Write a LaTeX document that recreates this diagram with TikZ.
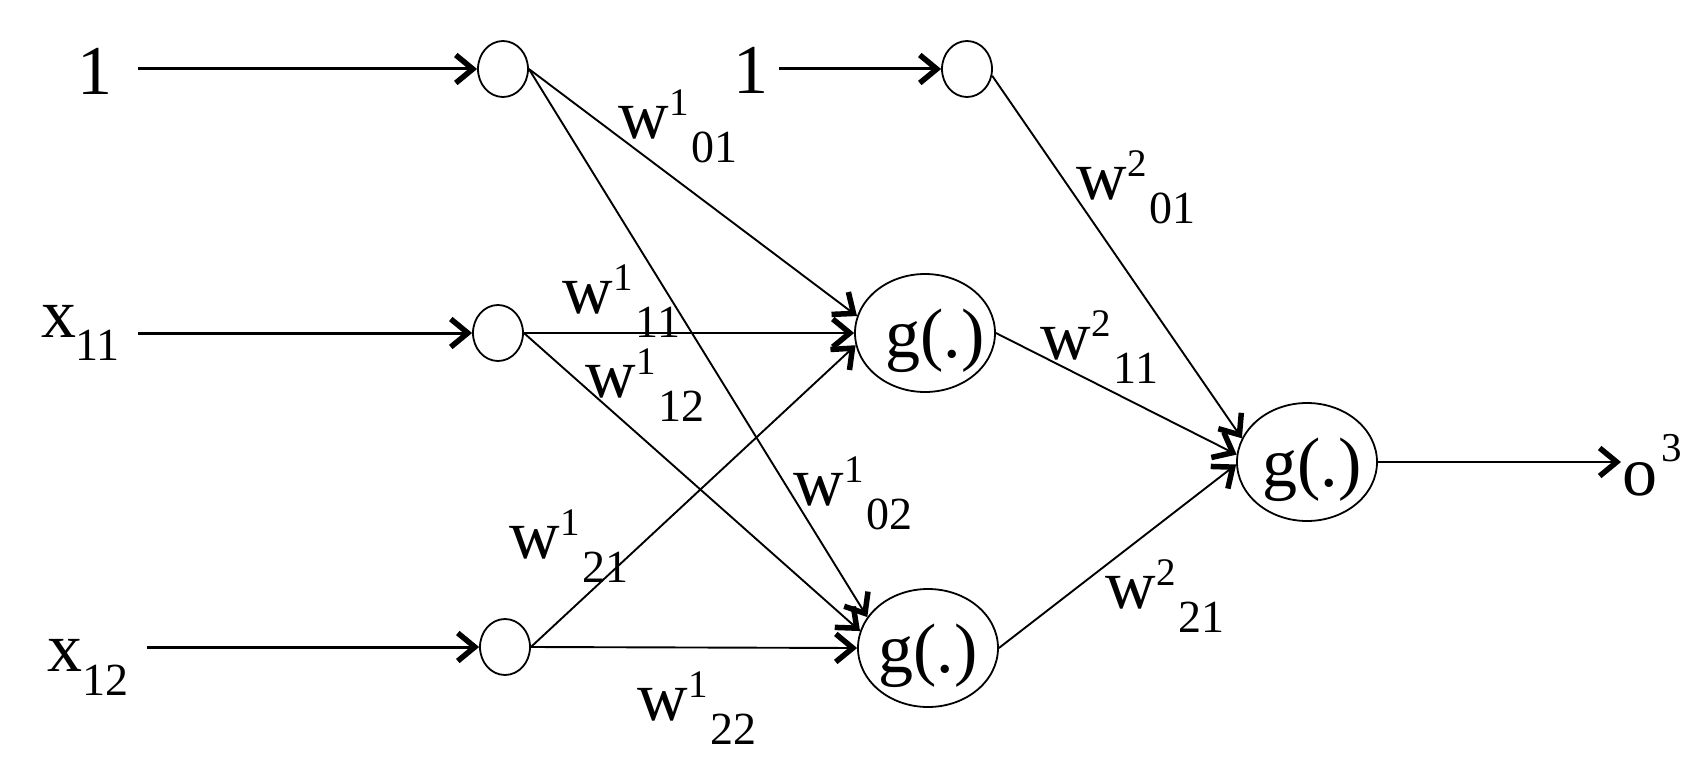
\documentclass[tikz,border=0pt]{standalone}
\usepackage{fontspec}
\setmainfont{Liberation Serif}
\usetikzlibrary{arrows.meta,shapes.geometric}
\newcommand{\supsz}{\fontsize{39}{44}\selectfont}
\newcommand{\subsz}{\fontsize{46}{52}\selectfont}
\newcommand{\wlab}[2]{w\kern1pt\rlap{\raisebox{23pt}{\supsz #1}}\kern22pt\raisebox{-24pt}{\subsz #2}}
\begin{document}
\begin{tikzpicture}[x=1pt,y=-1pt,
  every node/.style={font=\fontsize{70}{80}\selectfont, inner sep=0pt},
  neuron/.style={draw, ellipse, line width=1.8pt, minimum width=50pt, minimum height=56pt},
  unit/.style={draw, ellipse, line width=1.8pt, minimum width=140pt, minimum height=118pt},
  gtext/.style={anchor=base},
  tipped/.style={-{Straight Barb[length=17pt,width=28pt,line width=5.5pt]}},
  inarrow/.style={tipped, line width=3pt},
  conn/.style={tipped, line width=1.9pt},
  lab/.style={anchor=base west}
]
\useasboundingbox (0,0) rectangle (1697,768);

% nodes
\node[neuron] (A0) at (503,69) {};
\node[neuron] (A1) at (498,333) {};
\node[neuron] (A2) at (505,647) {};
\node[neuron] (B0) at (967,69) {};
\node[unit] (G1) at (925,333) {};
\node[unit] (G2) at (928,648) {};
\node[unit] (G3) at (1307,462) {};
\node[gtext] (G1t) at (935,357) {g(.)};
\node[gtext] (G2t) at (928,672) {g(.)};
\node[gtext] (G3t) at (1312,486) {g(.)};

% input labels
\node[lab] (one1) at (77,95) {1};
\node[lab] (one2) at (733,93) {1};
\node[lab] (x11) at (41,337) {x\kern-1pt\raisebox{-23pt}{\subsz 11}};
\node[lab] (x12) at (47,671) {x\kern0pt\raisebox{-24pt}{\subsz 12}};
\node[lab] (o3) at (1622,495) {o\kern4pt\raisebox{34pt}{\fontsize{41}{46}\selectfont 3}};

\coordinate (s0) at (138,69);
\coordinate (s1) at (138,333);
\coordinate (s2) at (147,647);
\coordinate (s3) at (779,69);
\coordinate (e3) at (1621,462);

% input arrows
\draw[inarrow] (s0) -- (A0.west);
\draw[inarrow] (s1) -- (A1.west);
\draw[inarrow] (s2) -- (A2.west);
\draw[inarrow] (s3) -- (B0.west);

% layer 1 connections
\draw[conn] (A0.east) -- (G1.166);
\draw[conn] (A0.east) -- (G2.153);
\draw[conn] (A1.east) -- (G1.180);
\draw[conn] (A1.east) -- (G2.166);
\draw[conn] (A2.east) -- (G1.190);
\draw[conn] (A2.east) -- (G2.180);

% layer 2 connections
\draw[conn] (B0.-15) -- (G3.160);
\draw[conn] (G1.east) -- (G3.174);
\draw[conn] (G2.east) -- (G3.182);
\draw[conn] (G3.east) -- (e3);

% weight labels
\node[lab] (w101) at (618,138) {\wlab{1}{01}};
\node[lab] (w111) at (562,313) {\wlab{1}{11}};
\node[lab] (w112) at (585,397) {\wlab{1}{12}};
\node[lab] (w102) at (793,505) {\wlab{1}{02}};
\node[lab] (w121) at (509,558) {\wlab{1}{21}};
\node[lab] (w122) at (637,720) {\wlab{1}{22}};
\node[lab] (w201) at (1076,199) {\wlab{2}{01}};
\node[lab] (w211) at (1040,359) {\wlab{2}{11}};
\node[lab] (w221) at (1105,608) {\wlab{2}{21}};
\end{tikzpicture}
\end{document}
